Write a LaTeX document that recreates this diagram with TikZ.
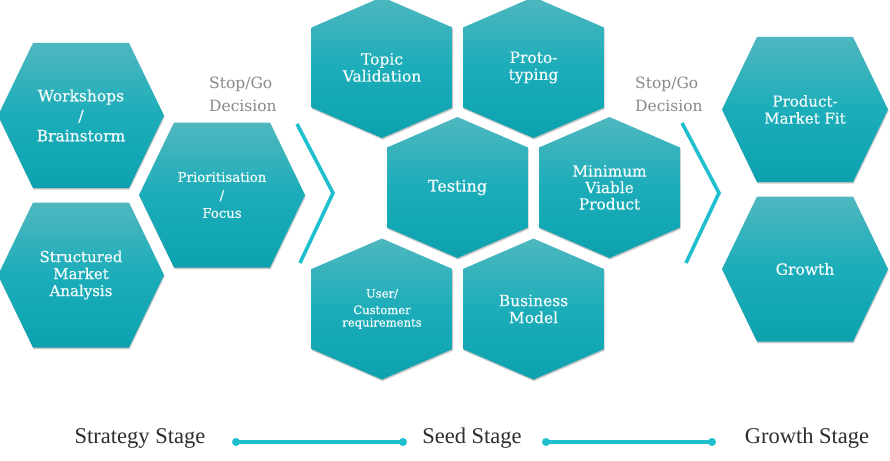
\documentclass[tikz,border=0pt]{standalone}
\usepackage{fontspec}
\setmainfont{DejaVu Serif}
\newfontfamily\hexfont[FakeBold=0.5]{DejaVu Serif}
\newfontfamily\stagefont{Liberation Serif}
\usetikzlibrary{shadows}

\definecolor{hextop}{RGB}{78,183,191}
\definecolor{hexmid}{RGB}{27,173,185}
\definecolor{hexbot}{RGB}{13,161,175}
\definecolor{hexink}{RGB}{242,250,250}
\definecolor{chevron}{RGB}{32,191,207}
\definecolor{decision}{RGB}{136,136,136}
\definecolor{stageink}{RGB}{45,45,45}

\tikzset{
  hexbody/.style={top color=hextop, bottom color=hexbot, middle color=hexmid,
    drop shadow={shadow xshift=0.6pt, shadow yshift=-1.6pt, opacity=0.22, fill=black}},
  hexlabel/.style={text=hexink, align=center, inner sep=0pt},
  chevronline/.style={draw=chevron, line width=3.6pt, line join=miter},
  decisionlabel/.style={text=decision, align=left, inner sep=0pt, anchor=base west,
    font=\fontsize{15.5}{23}\selectfont},
  stagelabel/.style={text=stageink, inner sep=0pt, anchor=base,
    font=\stagefont\fontsize{22.5}{25}\selectfont},
  stagedot/.style={circle, fill=chevron, minimum size=8pt, inner sep=0pt},
  stageline/.style={draw=chevron, line width=3.4pt},
}

% pointy-top hexagon (centre stage): name / centre / font size / line skip / text
\newcommand\vhex[5]{%
  \shade[hexbody, shift={(#2)}] (0,-70.5) -- (70.5,-40) -- (70.5,40) -- (0,70.5)
    -- (-70.5,40) -- (-70.5,-40) -- cycle;
  \node[hexlabel, font=\hexfont\fontsize{#3}{#4}\selectfont] (#1) at (#2) {#5};}
% flat-top hexagon (strategy and growth stages): same arguments
\newcommand\hhex[5]{%
  \shade[hexbody, shift={(#2)}] (-83,0) -- (-48,-72.5) -- (48,-72.5) -- (83,0)
    -- (48,72.5) -- (-48,72.5) -- cycle;
  \node[hexlabel, font=\hexfont\fontsize{#3}{#4}\selectfont] (#1) at (#2) {#5};}

\begin{document}
\begin{tikzpicture}[x=1pt, y=-1pt]
  \fill[white] (0,0) rectangle (890,460);
  \clip (0,0) rectangle (890,460);

  % strategy stage
  \hhex{workshops}{81,115.5}{15.5}{20}{Workshops\\/\\Brainstorm}
  \hhex{structured}{81,275}{15}{17}{Structured\\Market\\Analysis}
  \hhex{prioritisation}{222,195}{13.3}{18}{Prioritisation\\/\\Focus}

  \node[decisionlabel] (decision1) at (209,111.5) {Stop/Go\\Decision};
  \draw[chevronline] (297,124) -- (333,193) -- (300,263);

  % seed stage
  \vhex{topic}{382,67.5}{15.5}{17}{Topic\\Validation}
  \vhex{proto}{533.5,67.5}{15.5}{17}{Proto-\\typing}
  \vhex{testing}{457.5,187.5}{16}{17}{Testing}
  \vhex{mvp}{609.5,187.5}{15.3}{16.5}{Minimum\\Viable\\Product}
  \vhex{user}{382,309}{11.6}{12.5}{User/\\[4pt]Customer\\requirements}
  \vhex{business}{533.5,309}{15.5}{17}{Business\\Model}

  \node[decisionlabel] (decision2) at (635,111.5) {Stop/Go\\Decision};
  \draw[chevronline] (682,123) -- (719,193) -- (686,263);

  % growth stage
  \hhex{fit}{805,109.5}{15}{17}{Product-\\Market Fit}
  \hhex{growth}{805,269}{15.5}{17}{Growth}

  % stage timeline
  \node[stagelabel] (strategy) at (140,443) {Strategy Stage};
  \node[stagelabel] (seed) at (472,443) {Seed Stage};
  \node[stagelabel] (growthstage) at (807,443) {Growth Stage};
  \node[stagedot] (d1) at (236,442) {};
  \node[stagedot] (d2) at (403,442) {};
  \node[stagedot] (d3) at (546,442) {};
  \node[stagedot] (d4) at (712,442) {};
  \draw[stageline] (d1.center) -- (d2.center);
  \draw[stageline] (d3.center) -- (d4.center);
\end{tikzpicture}
\end{document}
